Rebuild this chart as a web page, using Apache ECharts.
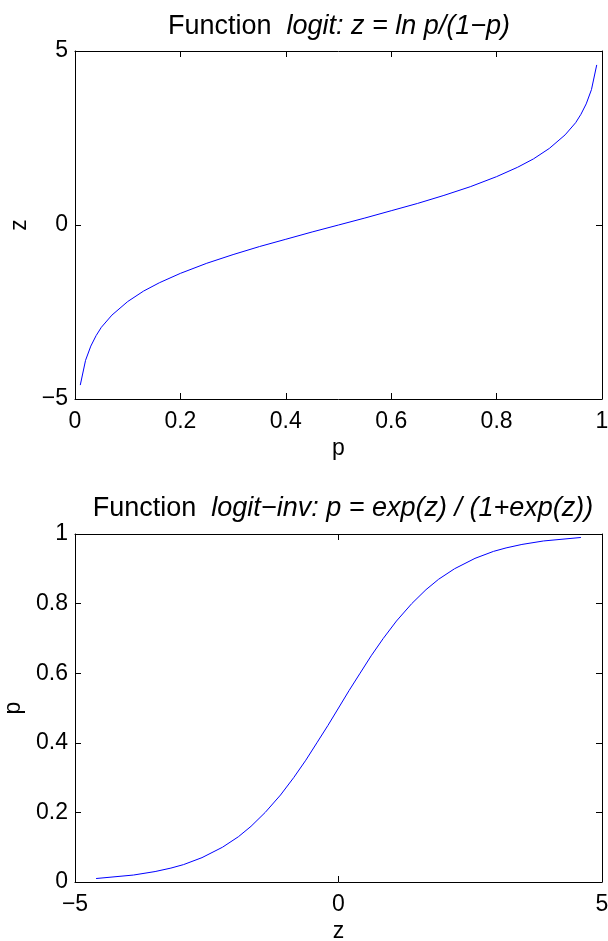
<!DOCTYPE html>
<html>
<head>
<meta charset="utf-8">
<script src="https://cdn.jsdelivr.net/npm/echarts@6/dist/echarts.min.js"></script>
<style>
  html, body { margin: 0; padding: 0; background: #fff; }
  #chart { width: 608px; height: 941px; }
</style>
</head>
<body>
<div id="chart"></div>
<script>
// Sampled probabilities and their log-odds
const pValues = [0.01, 0.02, 0.03, 0.04, 0.05, 0.07, 0.10, 0.13, 0.16, 0.20, 0.25, 0.30, 0.35, 0.40, 0.45,
                 0.50, 0.55, 0.60, 0.65, 0.70, 0.75, 0.80, 0.84, 0.87, 0.90, 0.93, 0.95, 0.96, 0.97, 0.98, 0.99];
const zValues = [-4.60, -3.89, -3.48, -3.18, -2.94, -2.59, -2.20, -1.90, -1.66, -1.39, -1.10, -0.85, -0.62, -0.41, -0.20,
                 0.00, 0.20, 0.41, 0.62, 0.85, 1.10, 1.39, 1.66, 1.90, 2.20, 2.59, 2.94, 3.18, 3.48, 3.89, 4.60];

// Tick settings for each panel
const logitXTicks = { min: 0, max: 1, interval: 0.2 };
const logitYTicks = { min: -5, max: 5, interval: 5 };
const invXTicks = { min: -5, max: 5, interval: 5 };
const invYTicks = { min: 0, max: 1, interval: 0.2 };

const FONT = 'Liberation Sans';
const LABEL_SIZE = 23;
const TITLE_SIZE = 27;
const minusSign = v => String(+v.toFixed(2)).replace('-', '\u2212');

function axisPair(kind, gridIndex, ticks, opts) {
  const base = {
    type: 'value', gridIndex, min: ticks.min, max: ticks.max, interval: ticks.interval,
    splitLine: { show: false },
    axisLine: { show: true, onZero: false, lineStyle: { color: '#000', width: 1 } },
    axisTick: { show: true, inside: true, length: 6, lineStyle: { color: '#000', width: 1 } }
  };
  const main = Object.assign({}, base, {
    position: kind === 'x' ? 'bottom' : 'left',
    axisLabel: { show: true, color: '#000', fontFamily: FONT, fontSize: LABEL_SIZE, margin: kind === 'x' ? 11 : 7,
                 formatter: minusSign },
    name: opts.name, nameLocation: 'middle', nameGap: opts.nameGap,
    nameRotate: kind === 'y' ? 90 : 0,
    nameTextStyle: { color: '#000', fontFamily: FONT, fontSize: LABEL_SIZE }
  });
  const mirror = Object.assign({}, base, {
    position: kind === 'x' ? 'top' : 'right',
    axisLabel: { show: false }
  });
  return [main, mirror];
}

const titleRich = {
  n: { fontFamily: FONT, fontSize: TITLE_SIZE, color: '#000', fontWeight: 'normal' },
  i: { fontFamily: FONT, fontSize: TITLE_SIZE, color: '#000', fontWeight: 'normal', fontStyle: 'italic' }
};

const topX = axisPair('x', 0, logitXTicks, { name: 'p', nameGap: 38 });
const topY = axisPair('y', 0, logitYTicks, { name: 'z', nameGap: 38 });
const botX = axisPair('x', 1, invXTicks, { name: 'z', nameGap: 38 });
const botY = axisPair('y', 1, invYTicks, { name: 'p', nameGap: 49 });

const option = {
  backgroundColor: '#fff',
  animation: false,
  title: [
    { text: '{n|Function  }{i|logit: z = ln p/(1\u2212p)}', left: 334, top: 8, textAlign: 'center',
      textStyle: { rich: titleRich } },
    { text: '{n|Function  }{i|logit\u2212inv: p = exp(z) / (1+exp(z))}', left: 338, top: 490, textAlign: 'center',
      textStyle: { rich: titleRich } }
  ],
  // Fixed plot boxes; labels may run up to the canvas edge
  grid: [
    { left: 75, top: 51, width: 527, height: 348, containLabel: false, outerBoundsMode: 'none' },
    { left: 75, top: 534, width: 527, height: 348, containLabel: false, outerBoundsMode: 'none' }
  ],
  xAxis: [topX[0], topX[1], botX[0], botX[1]],
  yAxis: [topY[0], topY[1], botY[0], botY[1]],
  series: [
    {
      type: 'line', xAxisIndex: 0, yAxisIndex: 0, showSymbol: false,
      data: pValues.map((p, i) => [p, zValues[i]]),
      lineStyle: { color: '#0000ff', width: 1 }
    },
    {
      type: 'line', xAxisIndex: 2, yAxisIndex: 2, showSymbol: false,
      data: zValues.map((z, i) => [z, pValues[i]]),
      lineStyle: { color: '#0000ff', width: 1 }
    }
  ]
};

echarts.init(document.getElementById('chart'), null, { renderer: 'canvas' }).setOption(option);
</script>
</body>
</html>
